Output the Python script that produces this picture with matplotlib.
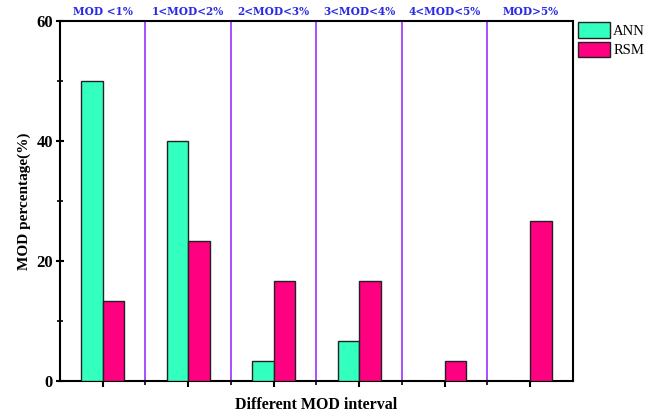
import matplotlib
matplotlib.use("Agg")
import matplotlib.pyplot as plt
import numpy as np
from matplotlib.ticker import MultipleLocator

intervals = ["MOD <1%", "1<MOD<2%", "2<MOD<3%", "3<MOD<4%", "4<MOD<5%", "MOD>5%"]
ann = [50.0, 40.0, 3.33, 6.67, 0.0, 0.0]
rsm = [13.33, 23.33, 16.67, 16.67, 3.33, 26.67]

ann_color = "#33FFBF"
rsm_color = "#FF0080"
divider_color = "#9B30FF"
label_blue = "#2A2AE6"

plt.rcParams["font.family"] = ["Liberation Serif", "DejaVu Serif"]

fig = plt.figure(figsize=(6.5, 4.16), dpi=100)
ax = fig.add_axes([0.0923, 0.0841, 0.7892, 0.8654])

x = np.arange(len(intervals))
w = 0.25
ax.bar(x - w / 2, ann, width=w, color=ann_color, edgecolor="#222222", linewidth=1.0, label="ANN", zorder=3)
ax.bar(x + w / 2, rsm, width=w, color=rsm_color, edgecolor="#222222", linewidth=1.0, label="RSM", zorder=3)

# category dividers
for b in x[:-1] + 0.5:
    ax.axvline(b, color=divider_color, linewidth=1.2, zorder=1)

# interval names above the plot
for xi, name in zip(x, intervals):
    ax.text(xi, 60.7, name, ha="center", va="bottom", fontsize=7.6, fontweight="bold",
            color=label_blue, family=["DejaVu Serif"])

ax.set_xlim(-0.5, 5.5)
ax.set_ylim(0, 60)
ax.set_xticks(x)
ax.set_xticklabels([])
ax.set_xticks(x[:-1] + 0.5, minor=True)
ax.tick_params(axis="x", which="major", direction="out", length=4, width=1.5)
ax.tick_params(axis="x", which="minor", direction="out", length=3, width=1.2)

ax.set_yticks([0, 20, 40, 60])
ax.yaxis.set_minor_locator(MultipleLocator(10))
ax.tick_params(axis="y", which="major", direction="inout", length=6, width=1.5, labelsize=12, pad=2)
ax.tick_params(axis="y", which="minor", direction="inout", length=4, width=1.2)
for lbl in ax.get_yticklabels():
    lbl.set_fontweight("bold")

for s in ax.spines.values():
    s.set_linewidth(1.5)
    s.set_color("black")

ax.set_ylabel("MOD percentage(%)", fontsize=11, fontweight="bold", labelpad=4)
ax.set_xlabel("Different MOD interval", fontsize=11.5, fontweight="bold", labelpad=4)

ax.legend(loc="upper left", bbox_to_anchor=(1.006, 1.0), frameon=False, fontsize=10.5,
          handlelength=2.2, handleheight=1.25, handletextpad=0.25, labelspacing=0.25,
          borderaxespad=0.0, borderpad=0.1)

fig.savefig("out.png", dpi=100)
